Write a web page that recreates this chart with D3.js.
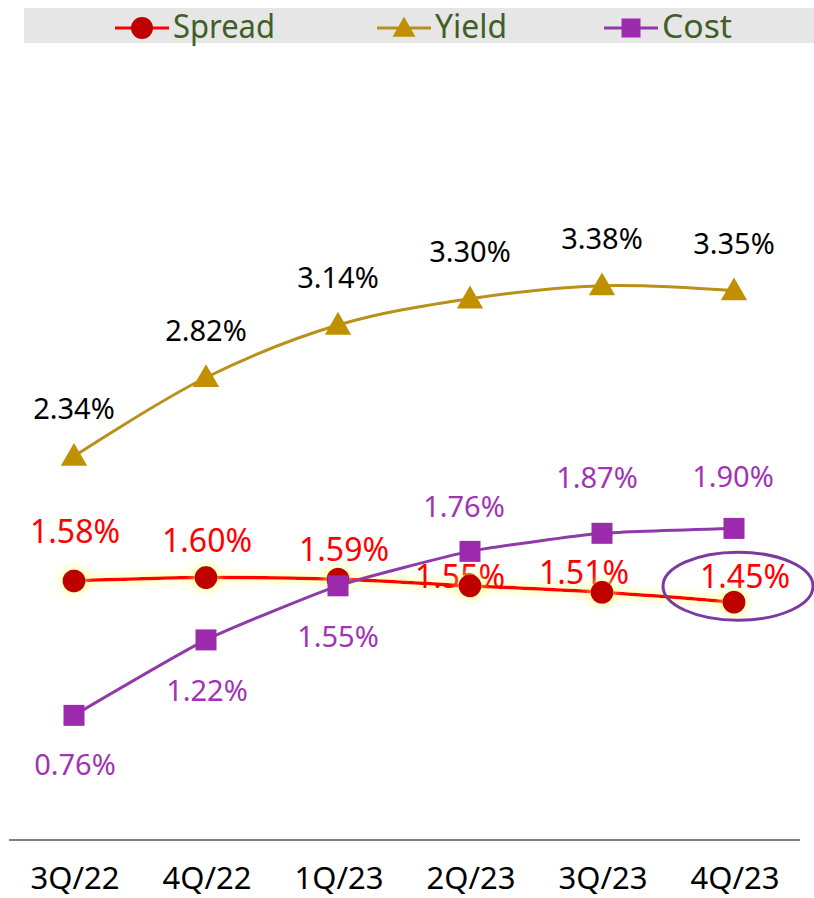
<!DOCTYPE html>
<html>
<head>
<meta charset="utf-8">
<script src="https://cdn.jsdelivr.net/npm/d3@7"></script>
<style>
  body { margin: 0; background: #fff; }
  text { font-family: "Noto Sans", "Open Sans", sans-serif; }
</style>
</head>
<body>
<div id="container"></div>
<script>
// data
var quarters = ["3Q/22", "4Q/22", "1Q/23", "2Q/23", "3Q/23", "4Q/23"]
var spread = [1.58, 1.60, 1.59, 1.55, 1.51, 1.45]
var yieldVals = [2.34, 2.82, 3.14, 3.30, 3.38, 3.35]
var cost = [0.76, 1.22, 1.55, 1.76, 1.87, 1.90]

// label nudges (px) to follow the original placement
var spreadLabelDx = [1, 1, 6, -10, -18, 11]
var spreadLabelDy = [-38, -26, -18, 2, -8, -14]
var costLabelDx = [1, 1, 0, -6, -5, -1]
var costLabelDy = [60, 61, 61, -34, -45, -41]

var width = 814
var height = 898

var svg = d3.select("#container")
  .append("svg")
  .attr("width", width)
  .attr("height", height)

var defs = svg.append("defs")
var glow = defs.append("filter")
  .attr("id", "glow")
  .attr("x", "-30%").attr("y", "-80%")
  .attr("width", "160%").attr("height", "260%")
glow.append("feMorphology")
  .attr("in", "SourceAlpha").attr("operator", "dilate").attr("radius", 2).attr("result", "fat")
glow.append("feGaussianBlur")
  .attr("in", "fat").attr("stdDeviation", 5).attr("result", "blur")
glow.append("feFlood")
  .attr("flood-color", "#ffff80").attr("flood-opacity", 0.6)
glow.append("feComposite")
  .attr("in2", "blur").attr("operator", "in").attr("result", "glowCol")
var merge = glow.append("feMerge")
merge.append("feMergeNode").attr("in", "glowCol")
merge.append("feMergeNode").attr("in", "SourceGraphic")

var x = d3.scaleBand()
  .domain(quarters)
  .range([8, 800])
var cx = function(d, i) { return x(quarters[i]) + x.bandwidth() / 2 }

var y = d3.scaleLinear()
  .domain([0, 4.5])
  .range([840, 840 - 4.5 * 164])

// legend
var legend = svg.append("g")
legend.append("rect")
  .attr("x", 24).attr("y", 8)
  .attr("width", 790).attr("height", 35)
  .attr("fill", "#e6e6e6")

var legendItems = [
  { name: "Spread", x0: 115, line: "#ff0000", fill: "#c00000", shape: "circle", len: 102 },
  { name: "Yield", x0: 377, line: "#b8901a", fill: "#c09000", shape: "triangle", len: 72 },
  { name: "Cost", x0: 604, line: "#8e3aa8", fill: "#9c2aad", shape: "square", len: 70 }
]
legendItems.forEach(function(it) {
  legend.append("line")
    .attr("x1", it.x0).attr("x2", it.x0 + 54)
    .attr("y1", 28).attr("y2", 28)
    .attr("stroke", it.line).attr("stroke-width", 3)
  var sym = it.shape == "circle" ? d3.symbolCircle : it.shape == "triangle" ? d3.symbolTriangle : d3.symbolSquare
  var size = it.shape == "circle" ? 380 : it.shape == "triangle" ? 230 : 360
  legend.append("path")
    .attr("d", d3.symbol().type(sym).size(size))
    .attr("transform", "translate(" + (it.x0 + 27) + "," + (it.shape == "triangle" ? 30 : 28) + ")")
    .attr("fill", it.fill)
  legend.append("text")
    .attr("x", it.x0 + 58).attr("y", 38)
    .attr("font-size", 33)
    .attr("fill", "#3f5f27")
    .attr("textLength", it.len)
    .attr("lengthAdjust", "spacingAndGlyphs")
    .text(it.name)
})

// x axis
svg.append("line")
  .attr("x1", 9).attr("x2", 800)
  .attr("y1", y(0)).attr("y2", y(0))
  .attr("stroke", "#808080").attr("stroke-width", 2)

svg.append("g")
  .selectAll("text")
  .data(quarters)
  .enter()
  .append("text")
  .attr("x", function(d) { return x(d) + x.bandwidth() / 2 + 1 })
  .attr("y", 889)
  .attr("text-anchor", "middle")
  .attr("font-size", 31)
  .attr("fill", "#000")
  .text(function(d) { return d })

var line = d3.line()
  .x(cx)
  .y(function(d) { return y(d) })
  .curve(d3.curveCatmullRom.alpha(0.5))

var costLine = d3.line()
  .x(cx)
  .y(function(d) { return y(d) })
  .curve(d3.curveCardinal.tension(0.5))

// yield
svg.append("path")
  .datum(yieldVals)
  .attr("d", line)
  .attr("fill", "none")
  .attr("stroke", "#b8901a")
  .attr("stroke-width", 3)
svg.append("g")
  .selectAll("path")
  .data(yieldVals)
  .enter()
  .append("path")
  .attr("d", d3.symbol().type(d3.symbolTriangle).size(300))
  .attr("transform", function(d, i) { return "translate(" + cx(d, i) + "," + (y(d) + 2) + ")" })
  .attr("fill", "#c09000")
svg.append("g")
  .selectAll("text")
  .data(yieldVals)
  .enter()
  .append("text")
  .attr("x", cx)
  .attr("y", function(d) { return y(d) - 37 })
  .attr("text-anchor", "middle")
  .attr("font-size", 29)
  .attr("fill", "#000")
  .text(function(d) { return d.toFixed(2) + "%" })

// spread
var spreadG = svg.append("g").attr("filter", "url(#glow)")
spreadG.append("path")
  .datum(spread)
  .attr("d", line)
  .attr("fill", "none")
  .attr("stroke", "#ff0000")
  .attr("stroke-width", 3.5)
svg.append("g")
  .selectAll("text")
  .data(spread)
  .enter()
  .append("text")
  .attr("x", function(d, i) { return cx(d, i) + spreadLabelDx[i] })
  .attr("y", function(d, i) { return y(d) + spreadLabelDy[i] })
  .attr("text-anchor", "middle")
  .attr("font-size", 32)
  .attr("fill", "#ff0000")
  .text(function(d) { return d.toFixed(2) + "%" })
svg.append("g")
  .attr("filter", "url(#glow)")
  .selectAll("circle")
  .data(spread)
  .enter()
  .append("circle")
  .attr("cx", cx)
  .attr("cy", function(d) { return y(d) })
  .attr("r", 11.5)
  .attr("fill", "#c00000")

// cost
svg.append("path")
  .datum(cost)
  .attr("d", costLine)
  .attr("fill", "none")
  .attr("stroke", "#8e3aa8")
  .attr("stroke-width", 3)
svg.append("g")
  .selectAll("rect")
  .data(cost)
  .enter()
  .append("rect")
  .attr("x", function(d, i) { return cx(d, i) - 10.5 })
  .attr("y", function(d) { return y(d) - 10.5 })
  .attr("width", 21).attr("height", 21)
  .attr("fill", "#9c2aad")
svg.append("g")
  .selectAll("text")
  .data(cost)
  .enter()
  .append("text")
  .attr("x", function(d, i) { return cx(d, i) + costLabelDx[i] })
  .attr("y", function(d, i) { return y(d) + costLabelDy[i] })
  .attr("text-anchor", "middle")
  .attr("font-size", 29)
  .attr("fill", "#a034b4")
  .text(function(d) { return d.toFixed(2) + "%" })

// highlight ring round the last spread value
svg.append("ellipse")
  .attr("cx", x(quarters[5]) + x.bandwidth() / 2 + 4)
  .attr("cy", y(spread[5]) - 16)
  .attr("rx", 75).attr("ry", 34)
  .attr("fill", "none")
  .attr("stroke", "#7a3aa0")
  .attr("stroke-width", 3)
</script>
</body>
</html>
